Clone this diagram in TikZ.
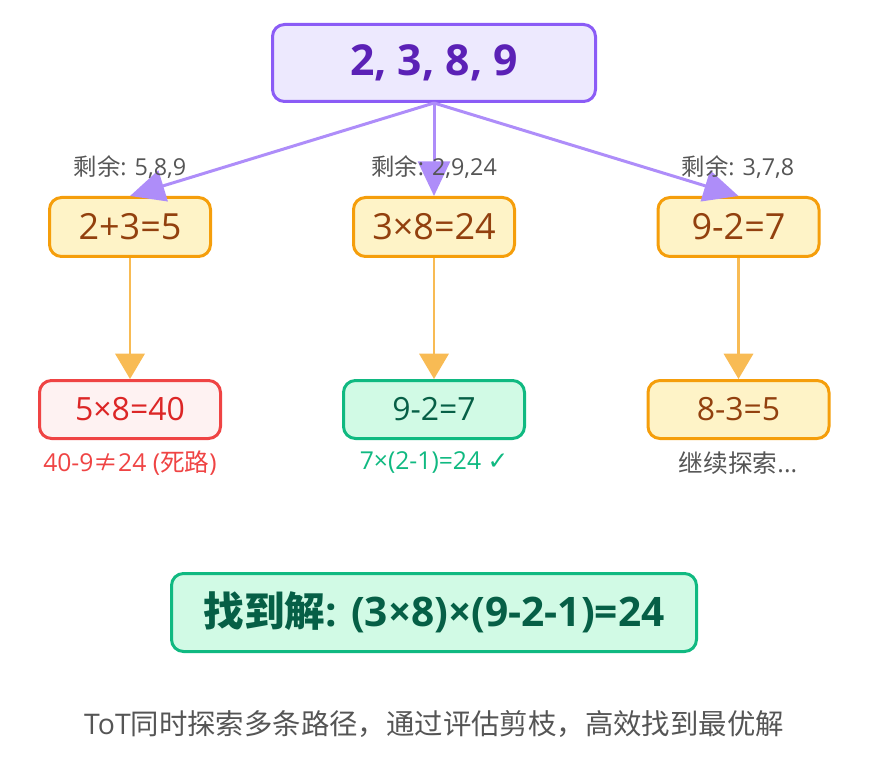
\documentclass[tikz,border=0pt]{standalone}
\usepackage{fontspec}
\setmainfont{Open Sans}
\newfontfamily\cjk{Noto Sans CJK SC}
\newfontfamily\symfont{DejaVu Sans}
\usetikzlibrary{arrows.meta}
\definecolor{pborder}{HTML}{8B5CF6}
\definecolor{pfill}{HTML}{EDE9FE}
\definecolor{ptext}{HTML}{5B21B6}
\definecolor{parrowc}{HTML}{AE8DF9}
\definecolor{aborder}{HTML}{F59E0B}
\definecolor{afill}{HTML}{FEF3C7}
\definecolor{atext}{HTML}{92400E}
\definecolor{aarrowc}{HTML}{F8BB54}
\definecolor{rborder}{HTML}{EF4444}
\definecolor{rfill}{HTML}{FEF2F2}
\definecolor{rtext}{HTML}{DC2626}
\definecolor{gborder}{HTML}{10B981}
\definecolor{gfill}{HTML}{D1FAE5}
\definecolor{gtext}{HTML}{065F46}
\definecolor{graytext}{HTML}{555555}
\tikzset{
  box/.style={draw, rounded corners=9pt, line width=2.25pt, inner sep=0pt, align=center},
  topbox/.style={box, draw=pborder, fill=pfill, text=ptext, minimum width=323*0.75pt, minimum height=77*0.75pt, font=\fontsize{32}{38}\selectfont\bfseries},
  stepbox/.style={box, draw=aborder, fill=afill, text=atext, minimum width=161*0.75pt, minimum height=59*0.75pt, font=\fontsize{27}{32}\selectfont},
  leafbox/.style={box, minimum width=181*0.75pt, minimum height=58*0.75pt, font=\fontsize{24}{30}\selectfont},
  deadbox/.style={leafbox, draw=rborder, fill=rfill, text=rtext},
  okbox/.style={leafbox, draw=gborder, fill=gfill, text=gtext},
  waitbox/.style={leafbox, draw=aborder, fill=afill, text=atext},
  solbox/.style={box, draw=gborder, fill=gfill, text=gtext, minimum width=525*0.75pt, minimum height=78*0.75pt, font=\fontsize{30.5}{36}\selectfont\bfseries},
  remlabel/.style={text=graytext, font=\fontsize{17.5}{20}\selectfont, inner sep=0pt},
  note/.style={font=\fontsize{18.5}{21}\selectfont, inner sep=0pt},
  parrow/.style={draw=parrowc, line width=2.25pt, -{Triangle[length=26pt, width=24pt]}},
  aarrow/.style={draw=aarrowc, line width=1.9pt, -{Triangle[length=19pt, width=22pt]}},
}
\begin{document}
\begin{tikzpicture}[x=0.75pt, y=-0.75pt]
\useasboundingbox (0,0) rectangle (882,759);
% nodes
\node[topbox] (top) at (434,63) {2, 3, 8, 9};
\node[stepbox] (a) at (130,227) {2+3=5};
\node[stepbox] (b) at (434,227) {3×8=24};
\node[stepbox] (c) at (738.5,227) {9-2=7};
\node[deadbox] (d) at (130,409.5) {5×8=40};
\node[okbox] (e) at (434,409.5) {9-2=7};
\node[waitbox] (f) at (738.5,409.5) {8-3=5};
\node[solbox] (sol) at (434,612.5) {{\cjk 找到解}: (3×8)×(9-2-1)=24};
% arrows
\draw[parrow] (top.south) -- (a.north);
\draw[parrow] (top.south) -- (b.north);
\draw[parrow] (top.south) -- (c.north);
\draw[aarrow] (a.south) -- (d.north);
\draw[aarrow] (b.south) -- (e.north);
\draw[aarrow] (c.south) -- (f.north);
% labels
\node[remlabel] (ra) at (130,167) {{\cjk 剩余}: 5,8,9};
\node[remlabel] (rb) at (434,167) {{\cjk 剩余}: 2,9,24};
\node[remlabel] (rc) at (738,167) {{\cjk 剩余}: 3,7,8};
\node[note, text=rborder] (nd) at (130,463) {40-9{\cjk ≠}24 ({\cjk 死路})};
\node[note, text=gborder] (ne) at (434,463) {7×(2-1)=24 {\symfont ✓}};
\node[note, text=graytext] (nf) at (738,463) {{\cjk 继续探索}...};
\node[text=graytext, font=\fontsize{21.3}{24}\selectfont, inner sep=0pt] (cap) at (434,724) {ToT{\cjk 同时探索多条路径，通过评估剪枝，高效找到最优解}};
\end{tikzpicture}
\end{document}
